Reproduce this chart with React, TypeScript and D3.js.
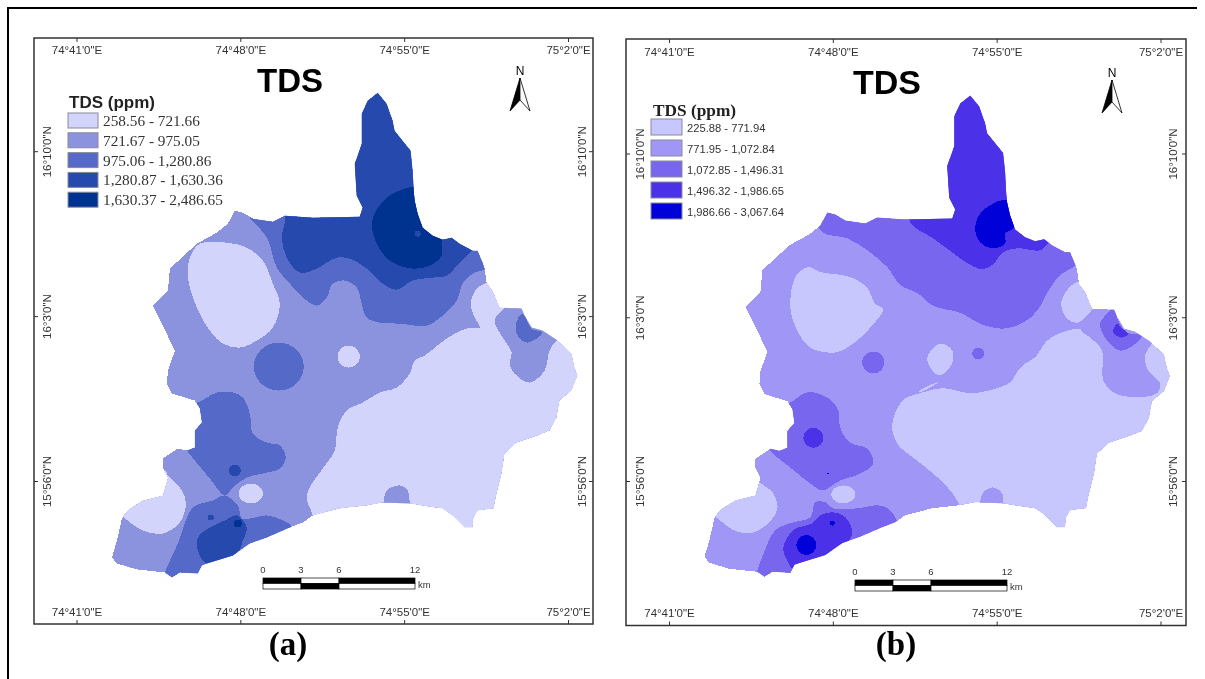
import React from "react";
import * as d3 from "d3";

type Pt = [number, number];
type Spot = [number, number, number, number];

// map grid units counted from the SW graticule corner (74°41'E, 15°56'N), 7' = 164 units
const lonTicks = [0, 164, 328, 492];
const lonLabels = ["74°41'0\"E", "74°48'0\"E", "74°55'0\"E", "75°2'0\"E"];
const latTicks = [0, 165, 330];
const latLabels = ["15°56'0\"N", "16°3'0\"N", "16°10'0\"N"];
const scaleKm = [0, 3, 6, 12];

const outline: Pt[] = [
  [301, 389], [310, 378], [316, 361], [318, 351], [326, 341], [334, 331], [336, 311], [337, 291], [338, 281], [341, 268],
  [346, 254], [356, 246], [366, 242], [375, 244], [383, 238], [396, 231], [401, 231], [406, 219], [408, 213], [410, 199],
  [416, 191], [423, 174], [445, 173], [448, 166], [455, 154], [466, 151], [481, 141], [495, 128], [498, 114], [501, 106],
  [495, 91], [483, 81], [480, 64], [473, 51], [461, 46], [440, 39], [428, 28], [425, 8], [420, -12], [417, -27],
  [401, -29], [397, -36], [396, -46], [388, -46], [376, -34], [366, -27], [351, -25], [333, -22], [306, -21], [290, -24],
  [263, -27], [236, -34], [226, -41], [213, -46], [190, -56], [173, -62], [163, -69], [156, -74], [130, -82], [125, -84],
  [121, -92], [103, -91], [95, -96], [88, -91], [60, -88], [40, -82], [35, -76], [40, -59], [45, -37], [48, -32],
  [53, -27], [66, -19], [86, -14], [91, 4], [86, 14], [86, 23], [101, 33], [110, 31], [118, 34], [118, 51],
  [125, 59], [123, 73], [118, 81], [95, 88], [90, 98], [91, 111], [98, 131], [76, 176], [91, 191], [93, 213],
  [120, 238], [140, 249], [151, 258], [158, 271], [166, 269], [176, 263], [196, 260], [208, 266], [236, 264], [283, 265],
  [286, 274], [280, 286], [278, 318], [285, 338], [285, 368], [291, 381],
];

// panel (a) class polygons, painted in order and clipped to the outline
const aSouthEast: Pt[] = [
  [408, 198], [400, 193], [394, 178], [398, 164], [403, 154], [390, 153], [370, 143], [348, 126], [338, 121], [333, 108],
  [320, 94], [303, 89], [286, 79], [270, 71], [261, 54], [258, 31], [246, 13], [233, -6], [230, -16], [236, -34],
  [243, -59], [523, -59], [523, 201], [418, 201],
];
const aEastIsland: Pt[] = [
  [418, 161], [423, 169], [445, 181], [488, 146], [480, 141], [473, 131], [468, 111], [453, 99], [438, 108], [433, 118],
  [435, 129], [423, 149],
];
const aEastCore: Pt[] = [[445, 168], [439, 156], [441, 146], [451, 139], [466, 149], [455, 153], [448, 166]];
const aHump: Pt[] = [[307, -21], [310, -9], [323, -4], [331, -9], [333, -22], [333, -29], [307, -29]];
const aNorthWest: Pt[] = [
  [123, 238], [150, 239], [170, 234], [186, 221], [196, 198], [203, 178], [196, 154], [180, 141], [163, 134], [146, 138],
  [133, 151], [120, 174], [111, 204], [113, 224],
];
const aNorthBand: Pt[] = [
  [170, 269], [190, 244], [200, 214], [213, 198], [230, 181], [240, 176], [250, 184], [256, 198], [268, 201], [280, 194],
  [285, 178], [290, 164], [303, 159], [323, 158], [350, 156], [366, 166], [380, 181], [386, 198], [396, 208], [410, 214],
  [423, 251], [423, 291], [170, 291],
];
const aNorthHigh: Pt[] = [
  [208, 266], [205, 244], [210, 224], [223, 209], [240, 213], [250, 219], [260, 224], [273, 223], [290, 213], [306, 198],
  [320, 192], [336, 201], [356, 204], [370, 206], [383, 219], [396, 231], [423, 241], [423, 401], [263, 401], [193, 271],
];
const aNorthPeak: Pt[] = [
  [295, 258], [300, 238], [313, 221], [336, 213], [353, 216], [365, 226], [366, 242], [393, 251], [353, 295], [325, 292],
  [310, 284], [300, 272],
];
const aWestLobe: Pt[] = [
  [120, 79], [140, 89], [156, 89], [166, 84], [173, 68], [176, 48], [190, 39], [203, 36], [209, 24], [203, 13],
  [186, 8], [170, 4], [156, -6], [148, -14], [133, 3], [110, 31], [103, 41], [108, 81],
];
const aSouthWest: Pt[] = [
  [91, 6], [105, -9], [109, -22], [103, -41], [86, -52], [66, -49], [48, -37], [33, -24], [53, -9], [88, 11],
];
const aSouthLobe: Pt[] = [
  [148, -14], [161, -24], [165, -37], [178, -36], [190, -34], [206, -39], [215, -46], [193, -79], [113, -119], [83, -109],
  [88, -91], [101, -62], [116, -26], [136, -19],
];
const aSouthHigh: Pt[] = [
  [160, -34], [170, -46], [166, -59], [160, -72], [130, -82], [121, -69], [121, -56], [133, -46], [148, -39],
];

// panel (b) class polygons
const bSouthEast: Pt[] = [
  [411, 154], [398, 152], [378, 142], [366, 125], [356, 119], [349, 112], [341, 100], [321, 92], [301, 89], [274, 94],
  [251, 89], [234, 82], [223, 58], [228, 38], [244, 24], [264, 8], [281, -9], [291, -26], [296, -59], [531, -59],
  [531, 165],
];
const bNorthEast: Pt[] = [[406, 200], [398, 193], [392, 179], [398, 164], [408, 160], [418, 167], [424, 175], [430, 190], [420, 205]];
const bSliver: Pt[] = [[249, 90], [256, 95], [269, 100], [256, 92]];
const bEastIsland: Pt[] = [
  [411, 154], [423, 170], [441, 182], [491, 152], [483, 139], [476, 127], [479, 112], [491, 99], [488, 89], [464, 85],
  [444, 90], [434, 102], [433, 132], [421, 145],
];
const bEastCore: Pt[] = [[439, 170], [431, 159], [438, 142], [451, 132], [464, 137], [473, 147], [458, 150], [448, 165], [446, 177]];
const bEastHigh: Pt[] = [[448, 159], [444, 150], [453, 145], [459, 149], [453, 154]];
const bHump: Pt[] = [[311, -21], [314, -11], [324, -6], [333, -12], [334, -24], [334, -32], [311, -32]];
const bNorthWest: Pt[] = [
  [139, 216], [151, 211], [181, 206], [198, 195], [206, 179], [214, 174], [201, 155], [184, 139], [166, 130], [141, 135],
  [128, 152], [121, 175], [126, 206],
];
const bMidBlob: Pt[] = [[258, 125], [271, 139], [283, 132], [283, 119], [271, 107], [263, 112]];
const bNorthBand: Pt[] = [
  [146, 268], [153, 251], [178, 245], [198, 233], [218, 216], [231, 198], [248, 190], [264, 177], [291, 170], [311, 159],
  [334, 154], [354, 160], [368, 172], [378, 190], [391, 208], [404, 216], [431, 243], [431, 304], [146, 304],
];
const bNorthHigh: Pt[] = [
  [241, 261], [264, 245], [284, 230], [298, 220], [313, 214], [324, 219], [334, 231], [348, 235], [371, 233], [379, 240],
  [391, 248], [391, 404], [281, 404], [241, 300],
];
const bNorthPeak: Pt[] = [
  [324, 280], [311, 270], [306, 255], [311, 241], [324, 235], [336, 240], [336, 250], [344, 255], [346, 273], [338, 283], [331, 283],
];
const bWestLobe: Pt[] = [
  [119, 79], [138, 90], [159, 84], [169, 72], [171, 54], [181, 39], [198, 33], [204, 18], [191, 8], [171, 1],
  [153, -9], [141, -2], [121, 14], [103, 29], [96, 41], [106, 82],
];
const bSouthWest: Pt[] = [
  [89, 1], [104, -12], [108, -27], [99, -42], [81, -52], [64, -49], [48, -37], [31, -24], [56, -9], [86, 11],
];
const bSouthLobe: Pt[] = [
  [146, -21], [156, -21], [164, -27], [188, -27], [208, -24], [218, -27], [228, -42], [211, -80], [111, -120], [86, -105],
  [88, -90], [94, -73], [106, -49], [121, -42], [141, -36],
];
const bSouthHigh: Pt[] = [
  [163, -31], [176, -36], [183, -51], [178, -62], [161, -73], [124, -88], [118, -80], [114, -67], [124, -49], [143, -42], [151, -34],
];

// round patches: [u, v, radius u, radius v]
const aSpots3: Spot[] = [[202, 115, 25, 24]];
const aSpots1: Spot[] = [[272, 125, 11, 11], [174, -12, 12, 10]];
const aSpots4: Spot[] = [[341, 248, 3, 3], [158, 11, 6, 6], [134, -36, 3, 3]];
const aSpots5: Spot[] = [[161, -42, 4, 4]];
const bSpots3: Spot[] = [[204, 120, 11, 11], [309, 129, 6, 6]];
const bSpots1: Spot[] = [[174, -13, 12, 9]];
const bSpots4: Spot[] = [[144, 44, 10, 10]];
const bSpots5: Spot[] = [[137, -64, 10, 10], [163, -42, 2.5, 2.5], [159, 8, 1, 1]];

const aClasses = ["258.56 - 721.66", "721.67 - 975.05", "975.06 - 1,280.86", "1,280.87 - 1,630.36", "1,630.37 - 2,486.65"];
const bClasses = ["225.88 - 771.94", "771.95 - 1,072.84", "1,072.85 - 1,496.31", "1,496.32 - 1,986.65", "1,986.66 - 3,067.64"];
const aColors = ["#d3d4fb", "#8b93df", "#5469c8", "#2549ae", "#03318f"];
const bColors = ["#c7c7fd", "#a096f6", "#7966ee", "#4c33e8", "#0400d8"];

const aLayers: [Pt[], number][] = [
  [aSouthEast, 0], [aEastIsland, 1], [aEastCore, 2], [aHump, 1], [aNorthWest, 0], [aNorthBand, 2], [aNorthHigh, 3],
  [aNorthPeak, 4], [aWestLobe, 2], [aSouthWest, 0], [aSouthLobe, 2], [aSouthHigh, 3],
];
const bLayers: [Pt[], number][] = [
  [bSouthEast, 0], [bSliver, 0], [bEastIsland, 1], [bNorthEast, 0], [bEastCore, 2], [bEastHigh, 3], [bHump, 1], [bNorthWest, 0],
  [bMidBlob, 0], [bNorthBand, 2], [bNorthHigh, 3], [bNorthPeak, 4], [bWestLobe, 2], [bSouthWest, 0], [bSouthLobe, 2], [bSouthHigh, 3],
];

const sans = "'Liberation Sans', Arial, sans-serif";
const serif = "'Liberation Serif', 'Times New Roman', serif";

type PanelProps = {
  id: string;
  frame: [number, number, number, number];
  lonRange: [number, number];
  latRange: [number, number];
  lonY: [number, number];
  latX: [number, number];
  title: [number, number, number];
  layers: [Pt[], number][];
  spots: [Spot[], number][];
  colors: string[];
  classes: string[];
  legend: { titleY: number; boxX: number; boxY: number; boxW: number; boxH: number; step: number; textX: number; textDy: number; textSize: number; titleSize: number; titleFont: string; textFont: string; titleX: number };
  north: [number, number];
  bar: [number, number, number];
  caption: [string, number, number];
};

const Panel = ({ id, frame, lonRange, latRange, lonY, latX, title, layers, spots, colors, classes, legend, north, bar, caption }: PanelProps) => {
  const x = d3.scaleLinear().domain([0, 492]).range(lonRange);
  const y = d3.scaleLinear().domain([0, 330]).range(latRange);
  const km = d3.scaleLinear().domain([0, 12]).range([bar[0], bar[1]]);
  const ring = d3.line<Pt>().x((d) => x(d[0])).y((d) => y(d[1]));
  const blob = d3.line<Pt>().x((d) => x(d[0])).y((d) => y(d[1])).curve(d3.curveCatmullRomClosed.alpha(0.5));
  const [fx0, fy0, fx1, fy1] = frame;
  const [nx, ny] = north;
  const barY = bar[2];

  return (
    <g>
      <defs>
        <clipPath id={id}>
          <path d={ring(outline) + "Z"} />
        </clipPath>
      </defs>
      <rect x={fx0} y={fy0} width={fx1 - fx0} height={fy1 - fy0} fill="none" stroke="#333" strokeWidth={1.5} />
      {lonTicks.map((t, i) => (
        <g key={t}>
          <path d={`M${x(t)},${fy0}v4M${x(t)},${fy1}v-4`} stroke="#333" strokeWidth={1} />
          <text x={x(t)} y={lonY[0]} textAnchor="middle" fontFamily={sans} fontSize={11.5} fill="#333">{lonLabels[i]}</text>
          <text x={x(t)} y={lonY[1]} textAnchor="middle" fontFamily={sans} fontSize={11.5} fill="#333">{lonLabels[i]}</text>
        </g>
      ))}
      {latTicks.map((t, i) => (
        <g key={t}>
          <path d={`M${fx0},${y(t)}h4M${fx1},${y(t)}h-4`} stroke="#333" strokeWidth={1} />
          {latX.map((lx) => (
            <text key={lx} transform={`translate(${lx},${y(t)}) rotate(-90)`} textAnchor="middle" dy="0.35em" fontFamily={sans} fontSize={11.5} fill="#333">{latLabels[i]}</text>
          ))}
        </g>
      ))}
      <text x={title[0]} y={title[1]} textAnchor="middle" fontFamily={sans} fontWeight="bold" fontSize={title[2]} fill="#000">TDS</text>

      <text x={legend.titleX} y={legend.titleY} fontFamily={legend.titleFont} fontWeight="bold" fontSize={legend.titleSize} fill="#222">TDS (ppm)</text>
      {classes.map((c, i) => (
        <g key={c}>
          <rect x={legend.boxX} y={legend.boxY + i * legend.step} width={legend.boxW} height={legend.boxH} fill={colors[i]} stroke="#8a8a9a" strokeWidth={1} />
          <text x={legend.textX} y={legend.boxY + i * legend.step + legend.textDy} fontFamily={legend.textFont} fontSize={legend.textSize} fill="#333">{c}</text>
        </g>
      ))}

      <path d={ring(outline) + "Z"} fill={colors[1]} shapeRendering="crispEdges" />
      <g clipPath={`url(#${id})`} shapeRendering="crispEdges">
        {layers.map(([pts, c], i) => (
          <path key={i} d={blob(pts) ?? ""} fill={colors[c]} />
        ))}
        {spots.map(([list, c]) =>
          list.map((s, i) => (
            <ellipse key={`${c}-${i}`} cx={x(s[0])} cy={y(s[1])} rx={x(s[2]) - x(0)} ry={y(0) - y(s[3])} fill={colors[c]} />
          ))
        )}
      </g>

      <text x={nx} y={ny} textAnchor="middle" fontFamily={sans} fontSize={12} fill="#000">N</text>
      <path d={`M${nx},${ny + 3}L${nx - 10},${ny + 36}L${nx},${ny + 25}Z`} fill="#000" stroke="#000" strokeWidth={0.8} />
      <path d={`M${nx},${ny + 3}L${nx + 10},${ny + 36}L${nx},${ny + 25}Z`} fill="#fff" stroke="#000" strokeWidth={0.8} />

      {scaleKm.map((k) => (
        <text key={k} x={km(k)} y={barY - 5} textAnchor="middle" fontFamily={sans} fontSize={9.5} fill="#333">{k}</text>
      ))}
      {d3.pairs(scaleKm).map(([a, b], i) => (
        <g key={a}>
          <rect x={km(a)} y={barY} width={km(b) - km(a)} height={5.5} fill={i % 2 ? "#fff" : "#000"} stroke="#000" strokeWidth={0.7} />
          <rect x={km(a)} y={barY + 5.5} width={km(b) - km(a)} height={5.5} fill={i % 2 ? "#000" : "#fff"} stroke="#000" strokeWidth={0.7} />
        </g>
      ))}
      <text x={bar[1] + 3} y={barY + 10} fontFamily={sans} fontSize={9.5} fill="#333">km</text>

      <text x={caption[1]} y={caption[2]} textAnchor="middle" fontFamily={serif} fontWeight="bold" fontSize={33} fill="#000">{caption[0]}</text>
    </g>
  );
};

export default function App() {
  return (
    <svg width={1205} height={679} viewBox="0 0 1205 679" style={{ position: "absolute", left: 0, top: 0, background: "#fff" }}>
      <defs>
        <filter id="soft" x="0" y="0" width="100%" height="100%">
          <feGaussianBlur stdDeviation={0.45} />
        </filter>
      </defs>
      <g filter="url(#soft)">
        <rect width={1205} height={679} fill="#fff" />
        <path d="M8,679V8H1197" fill="none" stroke="#000" strokeWidth={2} />
        <Panel
          id="clip-a"
          frame={[34, 38, 593, 624]}
          lonRange={[77, 568.5]}
          latRange={[481.5, 151.7]}
          lonY={[54, 616]}
          latX={[47, 582]}
          title={[290, 92, 33]}
          layers={aLayers}
          spots={[[aSpots3, 2], [aSpots1, 0], [aSpots4, 3], [aSpots5, 4]]}
          colors={aColors}
          classes={aClasses}
          legend={{ titleX: 69, titleY: 108, boxX: 68, boxY: 113, boxW: 30, boxH: 15, step: 19.8, textX: 103, textDy: 13, textSize: 15.3, titleSize: 17, titleFont: sans, textFont: serif }}
          north={[520, 75]}
          bar={[263, 415, 578]}
          caption={["(a)", 288, 655]}
        />
        <Panel
          id="clip-b"
          frame={[626, 39, 1186, 625.5]}
          lonRange={[669.5, 1161]}
          latRange={[481.5, 154]}
          lonY={[56, 617]}
          latX={[640, 1172.5]}
          title={[887, 94, 34]}
          layers={bLayers}
          spots={[[bSpots3, 2], [bSpots1, 0], [bSpots4, 3], [bSpots5, 4]]}
          colors={bColors}
          classes={bClasses}
          legend={{ titleX: 653, titleY: 116, boxX: 651, boxY: 119, boxW: 31, boxH: 16, step: 21, textX: 687, textDy: 13, textSize: 11.2, titleSize: 17.3, titleFont: serif, textFont: sans }}
          north={[1112, 77]}
          bar={[855, 1007, 580]}
          caption={["(b)", 896, 655]}
        />
      </g>
    </svg>
  );
}
